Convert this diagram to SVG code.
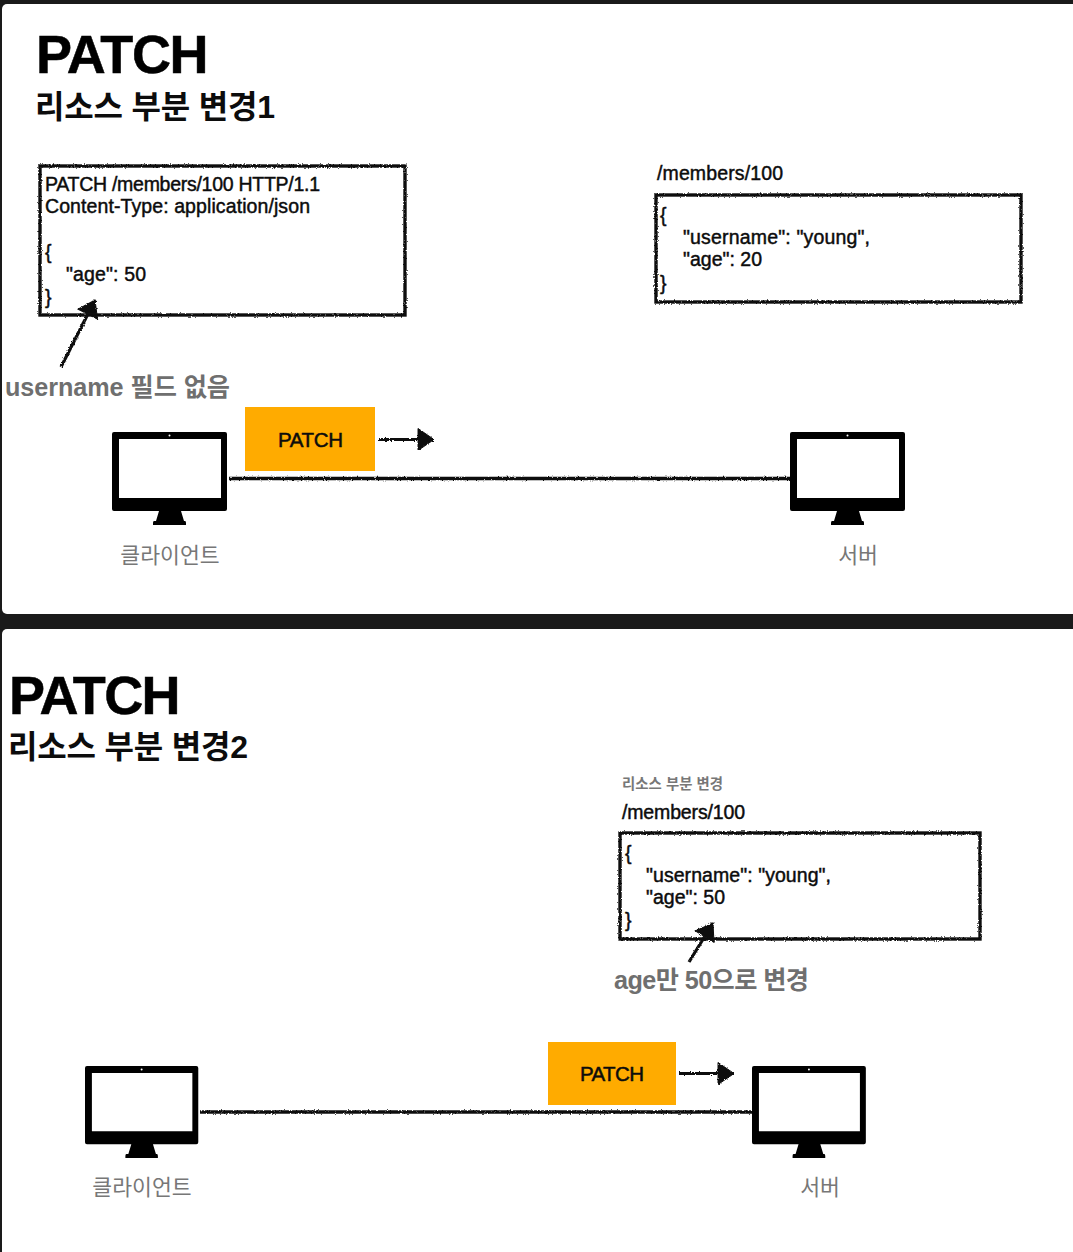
<svg xmlns="http://www.w3.org/2000/svg" width="1073" height="1252" viewBox="0 0 1073 1252">
<style>
text{font-family:"Liberation Sans","Noto Sans CJK KR",sans-serif;fill:#0c0c0c}
.h1{font-size:54px;font-weight:700;letter-spacing:-1.6px;stroke:#000;stroke-width:.5px;fill:#000}
.h2{font-size:32px;font-weight:700}
.b{font-size:19.5px;stroke:#0c0c0c;stroke-width:.45px}
.note{font-size:25.200px;font-weight:700;fill:#6f6f6f}
.cap{font-size:21.600px;fill:#777}
.small{font-size:14.400px;font-weight:700;fill:#777}
.tag{fill:#ffab00}
.tagt{font-size:20.500px;stroke:#0c0c0c;stroke-width:.5px}
.box{fill:none;stroke:#111;stroke-width:3.400;filter:url(#r)}
.ln{fill:none;stroke:#111;stroke-width:3.600;filter:url(#r)}
.ln2{fill:none;stroke:#111;stroke-width:3.200;filter:url(#r)}
</style>
<defs>
<filter id="r" filterUnits="userSpaceOnUse" x="0" y="0" width="1073" height="1252"><feTurbulence type="fractalNoise" baseFrequency=".7" numOctaves="2" seed="3"/><feDisplacementMap in="SourceGraphic" scale="2.800" xChannelSelector="R" yChannelSelector="G"/></filter>
<marker id="a" markerUnits="userSpaceOnUse" markerWidth="20" markerHeight="26" refX="17" refY="12" orient="auto"><path d="M1 1L17 12L1 23Z" fill="#111" stroke="#111" stroke-width="1"/></marker>
<g id="mon">
<path fill-rule="evenodd" fill="#000" d="M2 0H113a2 2 0 0 1 2 2V77a2 2 0 0 1-2 2H69L72 89H73Q74 89 74 91V93H41V91Q41 89 42 89H44L47 79H2a2 2 0 0 1-2-2V2A2 2 0 0 1 2 0ZM7 7V66H109V7Z"/>
<circle cx="57.500" cy="3.500" r="1" fill="#fff"/>
</g>
</defs>
<rect width="1073" height="1252" fill="#1a1a1a"/>
<rect x="2" y="4" width="1075" height="610" rx="5" fill="#fff"/>
<rect x="2" y="629" width="1075" height="630" rx="5" fill="#fff"/>

<g id="title1"><text class="h1" x="36" y="73" textLength="171">PATCH</text><text class="h2" x="35" y="118" textLength="240">리소스 부분 변경1</text></g>
<g id="title2"><text class="h1" x="9" y="714">PATCH</text><text class="h2" x="8" y="758" textLength="240">리소스 부분 변경2</text></g>

<g id="connectors">
<path class="ln" d="M229 478.500H790"/>
<path class="ln2" d="M379 439.500H434" marker-end="url(#a)"/>
<path class="ln2" d="M61 367L95 300" marker-end="url(#a)"/>
<path class="ln" d="M200 1112H752"/>
<path class="ln2" d="M679 1073.500H734" marker-end="url(#a)"/>
<path class="ln2" d="M689 962L713 923" marker-end="url(#a)"/>
</g>

<g id="request1"><rect class="box" x="40" y="166" width="365" height="149"/>
<text class="b" x="45" y="191" textLength="275">PATCH /members/100 HTTP/1.1</text>
<text class="b" x="45" y="213" textLength="265">Content-Type: application/json</text>
<text class="b" x="45" y="259">{</text>
<text class="b" x="66" y="281" textLength="80">"age": 50</text>
<text class="b" x="45" y="304">}</text></g>

<g id="resource1"><text class="b" x="657" y="180" textLength="126">/members/100</text>
<rect class="box" x="656" y="195" width="365" height="107"/>
<text class="b" x="660" y="222">{</text>
<text class="b" x="683" y="244" textLength="187">"username": "young",</text>
<text class="b" x="683" y="266" textLength="79">"age": 20</text>
<text class="b" x="660" y="290">}</text></g>

<g id="note1"><text class="note" x="5" y="396" textLength="225">username 필드 없음</text></g>
<g id="patch1"><rect class="tag" x="245" y="407" width="130" height="64"/><text class="tagt" x="278" y="447" textLength="65">PATCH</text></g>
<g id="client1"><use href="#mon" x="112" y="432"/><text class="cap" x="170" y="563" text-anchor="middle">클라이언트</text></g>
<g id="server1"><use href="#mon" x="790" y="432"/><text class="cap" x="858" y="563" text-anchor="middle">서버</text></g>

<g id="resource2"><text class="small" x="622" y="789" textLength="101">리소스 부분 변경</text>
<text class="b" x="622" y="819" textLength="123">/members/100</text>
<rect class="box" x="620" y="833" width="360" height="106"/>
<text class="b" x="625" y="860">{</text>
<text class="b" x="646" y="882" textLength="185">"username": "young",</text>
<text class="b" x="646" y="904" textLength="79">"age": 50</text>
<text class="b" x="625" y="927">}</text></g>

<g id="note2"><text class="note" x="614" y="989" textLength="195">age만 50으로 변경</text></g>
<g id="patch2"><rect class="tag" x="548" y="1042" width="128" height="63"/><text class="tagt" x="580" y="1081" textLength="64">PATCH</text></g>
<g id="client2"><use href="#mon" transform="translate(85 1066) scale(.985 .99)"/><text class="cap" x="142" y="1195" text-anchor="middle">클라이언트</text></g>
<g id="server2"><use href="#mon" transform="translate(752 1066) scale(.99 .99)"/><text class="cap" x="820" y="1195" text-anchor="middle">서버</text></g>
</svg>
